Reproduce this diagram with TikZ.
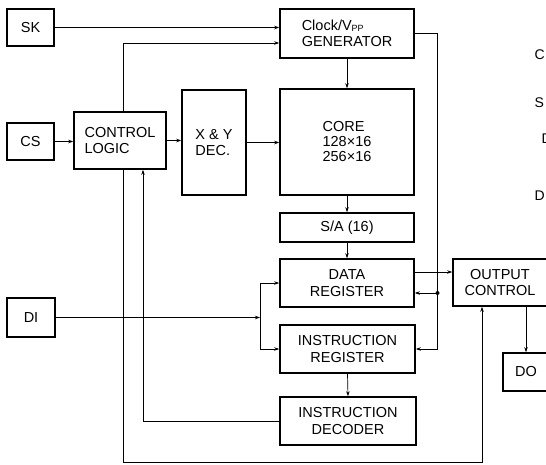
\documentclass[tikz,border=0pt]{standalone}
\usepackage{fontspec}
\setmainfont{Liberation Sans}
\usetikzlibrary{arrows.meta,calc}
\begin{document}
\begin{tikzpicture}[x=1pt,y=-1pt,
  box/.style={draw,line width=1.6pt,inner sep=0pt,align=center,font=\fontsize{14.5}{16.5}\selectfont},
  lbox/.style={box,align=left},
  wire/.style={line width=0.7pt,-{Stealth[length=5pt,width=3.5pt]}},
  plain/.style={line width=0.7pt},
  margin/.style={anchor=base west,inner sep=0pt,font=\fontsize{14}{16}\selectfont}]
\useasboundingbox (0,0) rectangle (546,464);
\clip (0,0) rectangle (546,464);
% input pins
\node[box,minimum width=47pt,minimum height=37pt] (sk) at (30.5,27.5) {SK};
\node[box,minimum width=47pt,minimum height=37pt] (cs) at (30.5,141.5) {CS};
\node[box,minimum width=48pt,minimum height=39pt] (di) at (31,317.5) {DI};
% logic blocks
\node[lbox,minimum width=92pt,minimum height=57pt] (cl) at (120,140.5) {CONTROL\\LOGIC};
\node[lbox,minimum width=64pt,minimum height=105pt] (xy) at (214,142.5) {X \& Y\\DEC.};
\node[lbox,minimum width=134pt,minimum height=49pt] (clk) at (347,33.5)
  {Clock/V\raisebox{-1pt}{\fontsize{9}{9}\selectfont PP}\\GENERATOR};
\node[lbox,minimum width=134pt,minimum height=106pt,font=\fontsize{14.5}{15}\selectfont] (core) at (347,142) {CORE\\128×16\\256×16};
\node[box,minimum width=134pt,minimum height=29pt] (sa) at (347,227.5) {S/A (16)};
\node[box,minimum width=134pt,minimum height=48pt] (dr) at (347,283) {DATA\\REGISTER};
\node[box,minimum width=135pt,minimum height=48pt] (ir) at (347.5,349) {INSTRUCTION\\REGISTER};
\node[box,minimum width=136pt,minimum height=48pt] (id) at (348,421) {INSTRUCTION\\DECODER};
\node[box,minimum width=94pt,minimum height=47pt] (oc) at (500,282.5) {OUTPUT\\CONTROL};
\node[box,minimum width=46pt,minimum height=38pt] (do) at (526,372) {DO};
% helper coordinates
\coordinate (bus) at (437.5,293);
\coordinate (fork) at (260,317.5);
\coordinate (br) at (482,462.5);
\coordinate (dro) at ($(dr.east)+(0,-11)$);
\coordinate (clin) at ($(clk.west)+(0,9.5)$);
\coordinate (clup) at ($(cl.north)+(3,0)$);
\coordinate (cldn) at ($(cl.south)+(3,0)$);
\coordinate (clfb) at ($(cl.south)+(23,0)$);
% connectors
\draw[wire] (sk.east) -- (sk.east -| clk.west);
\draw[wire] (clup) |- (clin);
\draw[wire] (cs.east) -- (cs.east -| cl.west);
\draw[wire] (cl.east) -- (cl.east -| xy.west);
\draw[wire] (xy.east) -- (xy.east -| core.west);
\draw[wire] (clk.south) -- (core.north);
\draw[wire] (core.south) -- (sa.north);
\draw[wire] (sa.south) -- (dr.north);
\draw[wire] (ir.south) -- (id.north);
\draw[plain] (clk.east) -| (bus);
\draw[wire] (bus) -- (bus -| dr.east);
\draw[wire] (bus) |- (ir.east);
\fill (bus) circle (2pt);
\draw[wire] (dro) -- (dro -| oc.west);
\draw[wire] (do.north |- oc.south) -- (do.north);
\draw[wire] (di.east) -- (fork);
\draw[wire] (fork) |- (dr.west);
\draw[wire] (fork) |- (ir.west);
\draw[wire] (cldn) |- (br) -- (br |- oc.south);
\draw[wire] (id.west) -| (clfb);
% cut-off margin text
\node[margin] (m1) at (534.5,59) {C};
\node[margin] (m2) at (534.5,107) {S};
\node[margin] (m3) at (541.5,143) {D};
\node[margin] (m4) at (534.5,200) {D};
\end{tikzpicture}
\end{document}
